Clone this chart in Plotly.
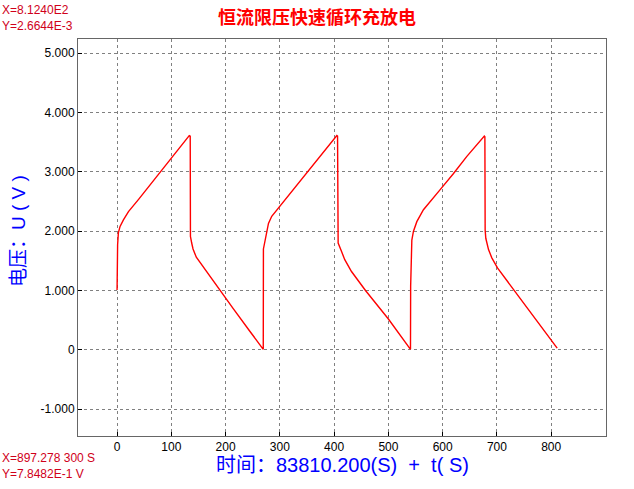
import plotly.graph_objects as go

# time (s) and voltage (V)
t_values = [
    0.0, 0.3, 1.0, 2.4, 5.5, 11.7, 21.0, 40.0, 60.0, 91.6, 115.0, 133.0, 134.8,
    135.2, 137.5, 140.0, 146.0, 153.0, 171.4, 214.4, 245.0, 268.5,
    269.4, 269.7, 272.8, 274.7, 279.0, 285.0, 297.4, 309.7, 351.5, 377.3, 405.0, 406.3,
    406.8, 407.4, 413.5, 419.6, 432.0, 457.8, 500.0, 539.5,
    540.7, 541.0, 543.2, 546.2, 552.4, 564.6, 583.0, 595.4, 620.0, 644.6, 676.8, 677.8,
    678.3, 679.5, 684.5, 690.6, 701.0, 731.8, 779.7, 811.0,
]
v_values = [
    1.01, 1.62, 1.77, 1.97, 2.08, 2.19, 2.33, 2.54, 2.77, 3.15, 3.41, 3.61, 3.60,
    1.91, 1.80, 1.70, 1.56, 1.47, 1.24, 0.69, 0.31, 0.01,
    0.01, 1.70, 1.85, 1.97, 2.13, 2.25, 2.39, 2.53, 3.00, 3.29, 3.61, 3.60,
    1.97, 1.80, 1.66, 1.52, 1.32, 1.00, 0.52, 0.02,
    0.01, 1.07, 1.85, 2.00, 2.16, 2.36, 2.57, 2.70, 2.97, 3.26, 3.60, 3.59,
    2.02, 1.88, 1.69, 1.55, 1.38, 1.00, 0.42, 0.03,
]

x_ticks = [0, 100, 200, 300, 400, 500, 600, 700, 800]
y_ticks = [-1, 0, 1, 2, 3, 4, 5]
y_tick_labels = ["-1.000", "0", "1.000", "2.000", "3.000", "4.000", "5.000"]

title_text = "恒流限压快速循环充放电"
x_title = "时间：83810.200(S)  +  t( S)"
y_title = "电压：U ( V )"
info_top = ["X=8.1240E2", "Y=2.6644E-3"]
info_bottom = ["X=897.278 300 S", "Y=7.8482E-1 V"]

W, H = 634, 489
L, R, T, B = 78, 606, 39, 436
pw, ph = R - L, B - T


def px(x):
    return (x - L) / pw


def py(y):
    return (B - y) / ph


fig = go.Figure()
fig.add_trace(go.Scatter(
    x=t_values, y=v_values, mode="lines",
    line=dict(color="#ff0000", width=1.4),
    hoverinfo="skip", showlegend=False,
))

axis_common = dict(
    showline=True, linecolor="#666666", linewidth=1, mirror=True,
    showgrid=True, gridcolor="#808080", gridwidth=1, griddash="3px,3px",
    zeroline=False, ticks="inside", ticklen=4, tickcolor="#000000",
    tickfont=dict(family="Liberation Sans, Arial", size=12, color="#000000"),
)

fig.update_xaxes(range=[-72, 901], tickvals=x_ticks, **axis_common)
fig.update_yaxes(range=[-1.45, 5.236], tickvals=y_ticks, ticktext=y_tick_labels,
                 **axis_common)

annotations = [
    dict(text=f"<b>{title_text}</b>", x=px(317), y=py(16), xref="paper", yref="paper",
         showarrow=False, xanchor="center", yanchor="middle",
         font=dict(family="Noto Sans CJK SC", size=18, color="#ff0000")),
    dict(text=x_title, x=px(342), y=py(465), xref="paper", yref="paper",
         showarrow=False, xanchor="center", yanchor="middle",
         font=dict(family="Liberation Sans, Noto Sans CJK SC", size=20, color="#0000ff")),
    dict(text=y_title, x=px(18), y=py(231), xref="paper", yref="paper",
         showarrow=False, xanchor="center", yanchor="middle", textangle=-90,
         font=dict(family="Liberation Sans, Noto Sans CJK SC", size=19, color="#0000ff")),
    dict(text=info_top[0], x=px(0), y=py(10), xref="paper", yref="paper",
         showarrow=False, xanchor="left", yanchor="middle",
         font=dict(family="Liberation Sans, Arial", size=12, color="#d0001a")),
    dict(text=info_top[1], x=px(0), y=py(26), xref="paper", yref="paper",
         showarrow=False, xanchor="left", yanchor="middle",
         font=dict(family="Liberation Sans, Arial", size=12, color="#d0001a")),
    dict(text=info_bottom[0], x=px(0), y=py(458), xref="paper", yref="paper",
         showarrow=False, xanchor="left", yanchor="middle",
         font=dict(family="Liberation Sans, Arial", size=12, color="#d0001a")),
    dict(text=info_bottom[1], x=px(0), y=py(474), xref="paper", yref="paper",
         showarrow=False, xanchor="left", yanchor="middle",
         font=dict(family="Liberation Sans, Arial", size=12, color="#d0001a")),
]

fig.update_layout(
    width=W, height=H,
    margin=dict(l=L, r=W - R, t=T, b=H - B, pad=0),
    paper_bgcolor="#ffffff", plot_bgcolor="#ffffff",
    annotations=annotations,
    showlegend=False,
)

fig.write_html(
    "out.html",
    config={"displayModeBar": False},
    post_script="document.body.style.margin='0';document.body.style.padding='0';",
)
